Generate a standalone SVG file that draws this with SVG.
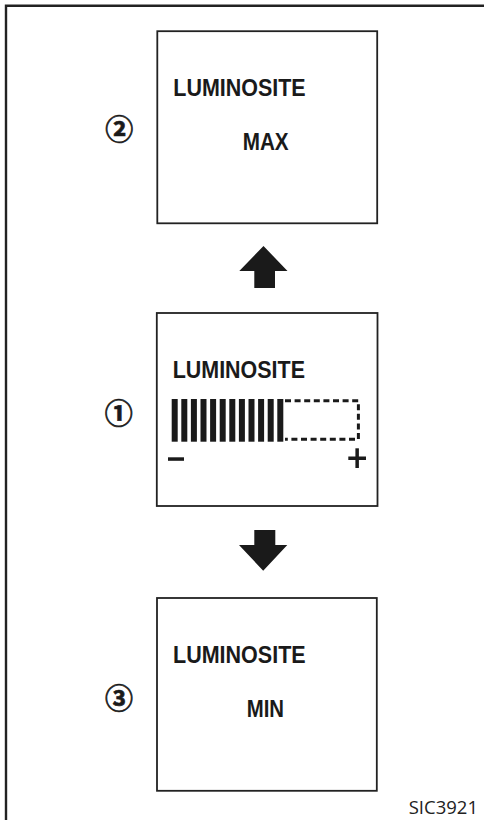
<svg xmlns="http://www.w3.org/2000/svg" width="484" height="820" viewBox="0 0 484 820">
<style>
.box{fill:#fff;stroke:#222;stroke-width:1.8}
.lbl{font-family:"Liberation Sans",Arial,sans-serif;font-weight:bold;font-size:23px;fill:#1a1a1a}
.num{font-family:"Noto Sans CJK JP","DejaVu Sans",sans-serif;font-weight:bold;font-size:28px;fill:#1a1a1a;stroke:#1a1a1a;stroke-width:0.7}
.arrow{fill:#1a1a1a}
.bar{fill:#1a1a1a}
.code{font-family:"Open Sans","Liberation Sans",sans-serif;font-size:18.5px;fill:#222}
</style>
<rect width="484" height="820" fill="#fff"/>
<path d="M6,820 V5.7 H484" fill="none" stroke="#222" stroke-width="2.4"/>

<g id="node-max">
<rect class="box" x="157.3" y="31.2" width="219.9" height="192.1"/>
<text class="lbl" x="173.3" y="96" textLength="132.4" lengthAdjust="spacingAndGlyphs">LUMINOSITE</text>
<text class="lbl" x="242.7" y="150" textLength="46" lengthAdjust="spacingAndGlyphs">MAX</text>
<text class="num" x="119.3" y="127.5" text-anchor="middle" dominant-baseline="central">②</text>
</g>

<g id="node-current">
<rect class="box" x="156.8" y="313" width="220.7" height="193"/>
<text class="lbl" x="172.7" y="378.4" textLength="132.3" lengthAdjust="spacingAndGlyphs">LUMINOSITE</text>
<g class="bar">
<rect x="171.7" y="399" width="6" height="42.7"/>
<rect x="181.3" y="399" width="6" height="42.7"/>
<rect x="190.9" y="399" width="6" height="42.7"/>
<rect x="200.5" y="399" width="6" height="42.7"/>
<rect x="210.1" y="399" width="6" height="42.7"/>
<rect x="219.7" y="399" width="6" height="42.7"/>
<rect x="229.3" y="399" width="6" height="42.7"/>
<rect x="238.9" y="399" width="6" height="42.7"/>
<rect x="248.5" y="399" width="6" height="42.7"/>
<rect x="258.1" y="399" width="6" height="42.7"/>
<rect x="267.7" y="399" width="6" height="42.7"/>
<rect x="277.3" y="399" width="6" height="42.7"/>
<rect x="168" y="457.3" width="16" height="3.5"/>
<rect x="348.3" y="456.5" width="17.7" height="3.5"/>
<rect x="355.4" y="448.3" width="3.5" height="19.7"/>
</g>
<path d="M285,400.8 H358.4 V439.2 H285" fill="none" stroke="#1a1a1a" stroke-width="3" stroke-dasharray="6 3.6"/>
<text class="num" x="118.7" y="411.5" text-anchor="middle" dominant-baseline="central">①</text>
</g>

<g id="node-min">
<rect class="box" x="157" y="598" width="219.8" height="192.8"/>
<text class="lbl" x="173" y="662.7" textLength="132.7" lengthAdjust="spacingAndGlyphs">LUMINOSITE</text>
<text class="lbl" x="246.7" y="716.7" textLength="37.3" lengthAdjust="spacingAndGlyphs">MIN</text>
<text class="num" x="119" y="696.5" text-anchor="middle" dominant-baseline="central">③</text>
</g>

<g id="connectors">
<path class="arrow" d="M263.5,246 L287.5,271 H275 V288 H254.3 V271 H239.3 Z"/>
<path class="arrow" d="M254.3,530 H275.3 V545 H287.3 L263.2,570.7 L239,545 H254.3 Z"/>
</g>

<text class="code" x="478" y="814" text-anchor="end">SIC3921</text>
</svg>
